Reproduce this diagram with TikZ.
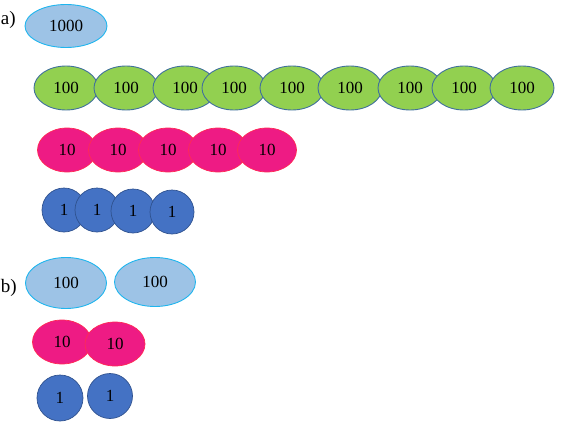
\documentclass[tikz,border=0pt]{standalone}
\usepackage{fontspec}
\setmainfont{Liberation Serif}
\usetikzlibrary{shapes.geometric}
\definecolor{lblue}{HTML}{9DC3E6}
\definecolor{cyanb}{HTML}{1FB5EE}
\definecolor{grn}{HTML}{92D050}
\definecolor{grnb}{HTML}{41719C}
\definecolor{pnk}{HTML}{EE1B84}
\definecolor{pnkb}{HTML}{FF2A55}
\definecolor{blu}{HTML}{4472C4}
\definecolor{blub}{HTML}{2F528F}
\begin{document}
\begin{tikzpicture}[x=1pt,y=-1pt,
  every node/.style={font=\fontsize{17}{20}\selectfont, inner sep=0pt, outer sep=0pt},
  bigoval/.style={ellipse, fill=lblue, draw=cyanb, line width=0.9pt},
  hundred/.style={ellipse, fill=grn, draw=grnb, line width=0.9pt, minimum width=64pt, minimum height=44pt},
  ten/.style={ellipse, fill=pnk, draw=pnkb, line width=0.7pt, minimum width=59pt, minimum height=44pt},
  one/.style={circle, fill=blu, draw=blub, line width=0.7pt, minimum size=44pt},
  lab/.style={anchor=west, font=\fontsize{19}{22}\selectfont}]
\useasboundingbox (0,0) rectangle (563,423);
% part a
\node[lab] (la) at (1,20) {a)};
\node[bigoval, minimum width=82pt, minimum height=43pt] (k) at (66,26) {1000};
\foreach \x [count=\i] in {66,126,185,234,292,350,410,464,522}
  \node[hundred] (g\i) at (\x,88) {100};
\foreach \x [count=\i] in {67,118,168,218,267}
  \node[ten] (p\i) at (\x,150) {10};
\foreach \x/\y [count=\i] in {64/210,97/210,133/211,172/212}
  \node[one] (c\i) at (\x,\y) {1};
% part b
\node[lab] (lb) at (1,288) {b)};
\node[bigoval, minimum width=81pt, minimum height=51pt] (h1) at (66,283) {100};
\node[bigoval, minimum width=81pt, minimum height=49pt] (h2) at (155,282) {100};
\node[ten] (q1) at (62,342) {10};
\node[ten, minimum width=60pt] (q2) at (115,344) {10};
\node[one, minimum size=46pt] (d1) at (60,398) {1};
\node[one, minimum size=45pt] (d2) at (110,396) {1};
\end{tikzpicture}
\end{document}
